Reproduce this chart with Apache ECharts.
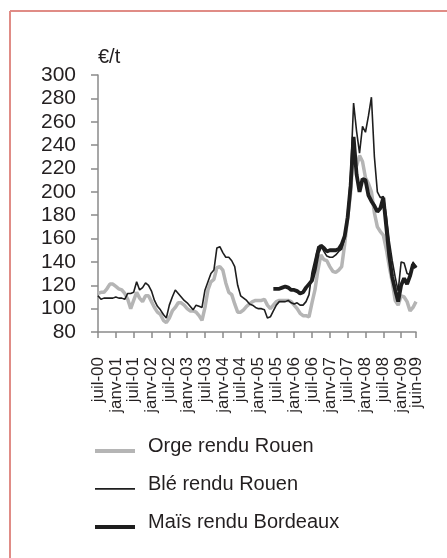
<!DOCTYPE html>
<html>
<head>
<meta charset="utf-8">
<script src="https://cdn.jsdelivr.net/npm/echarts@6/dist/echarts.min.js"></script>
<style>
html,body{margin:0;padding:0;background:#fff;}
#chart{width:447px;height:558px;}
</style>
</head>
<body>
<div id="chart"></div>
<script>
// Month names (French) and years used to build monthly categories juil-00 .. juin-09
const monthNames = ['janv','févr','mars','avr','mai','juin','juil','août','sept','oct','nov','déc'];
const startYear = 2000, startMonth = 6, monthCount = 108;
const categories = [];
for (let k = 0; k < monthCount; k++) {
  const m = (startMonth + k) % 12;
  const y = startYear + Math.floor((startMonth + k) / 12);
  categories.push(monthNames[m] + '-' + String(y % 100).padStart(2, '0'));
}

const seriesNames = ['Orge rendu Rouen', 'Blé rendu Rouen', 'Maïs rendu Bordeaux'];

const orge = [
  113, 114, 114, 117, 121, 121, 119, 117, 116, 113, 108, 100,
  107, 114, 109, 106, 111, 111, 106, 101, 97, 95, 90, 88,
  92, 98, 101, 105, 105, 103, 100, 98, 98, 97, 94, 90,
  101, 116, 123, 125, 135, 136, 133, 122, 114, 112, 104, 97,
  97, 99, 102, 104, 106, 107, 107, 107, 108, 103, 100, 103,
  106, 107, 107, 107, 107, 106, 103, 100, 96, 94, 94, 93,
  105, 116, 133, 146, 142, 141, 136, 132, 131, 133, 136, 155,
  178, 199, 238, 222, 231, 226, 212, 207, 200, 182, 170, 166,
  163, 151, 136, 123, 107, 103, 111, 110, 106, 98, 101, 106
];

const ble = [
  111, 108, 109, 109, 109, 109, 110, 109, 109, 108, 113, 113,
  114, 123, 116, 118, 122, 120, 115, 107, 102, 99, 95, 92,
  103, 110, 116, 113, 110, 107, 105, 102, 99, 103, 102, 101,
  116, 123, 130, 133, 152, 153, 148, 144, 144, 141, 136, 120,
  111, 109, 107, 104, 103, 101, 100, 100, 99, 92, 93, 98,
  103, 106, 106, 106, 107, 105, 104, 105, 103, 103, 106, 112,
  131, 142, 153, 154, 149, 145, 144, 144, 146, 149, 151, 160,
  178, 215, 276, 252, 233, 256, 251, 265, 281, 230, 200, 195,
  196, 180, 158, 141, 127, 115, 140, 139, 130, 129, 140, 135
];

const mais = [
  null, null, null, null, null, null, null, null, null, null, null, null,
  null, null, null, null, null, null, null, null, null, null, null, null,
  null, null, null, null, null, null, null, null, null, null, null, null,
  null, null, null, null, null, null, null, null, null, null, null, null,
  null, null, null, null, null, null, null, null, null, null, null, 117,
  117, 117, 118, 119, 118, 116, 116, 115, 113, 114, 118, 121,
  124, 134, 148, 154, 152, 149, 150, 150, 150, 151, 155, 162,
  178, 205, 247, 215, 200, 211, 210, 197, 192, 188, 183, 186,
  195, 170, 145, 127, 116, 106, 120, 126, 121, 128, 138, 135
];

const yMin = 80, yMax = 300, yStep = 20;

function isSixMonth(index) { return index % 6 === 0; }
function isLast(index) { return index === monthCount - 1; }
function isMarked(index) { return isSixMonth(index) || isLast(index); }

const chart = echarts.init(document.getElementById('chart'), null, {renderer: 'canvas'});
const textColor = '#231f20';
const axisColor = '#8a8a8a';
const fontFamily = '"Liberation Sans", Arial, Helvetica, sans-serif';

const thickIcon = 'path://M0,0 M0,13 L40,13 L40,17 L0,17 Z M40,20';
const thinIcon = 'path://M0,0 M0,14 L40,14 L40,15.8 L0,15.8 Z M40,20';

const xLabelStyle = {
  rotate: 90,
  hideOverlap: false,
  margin: 25,
  fontSize: 17,
  lineHeight: 12,
  color: textColor,
  fontFamily: fontFamily
};

chart.setOption({
  backgroundColor: '#ffffff',
  animation: false,
  textStyle: {fontFamily: fontFamily},
  grid: {left: 98, right: 31, top: 75, bottom: 226, containLabel: false},
  graphic: [
    {type: 'line', shape: {x1: 10, y1: 11, x2: 10, y2: 558}, style: {stroke: '#e08c86', lineWidth: 2}},
    {type: 'line', shape: {x1: 10, y1: 11, x2: 447, y2: 11}, style: {stroke: '#e08c86', lineWidth: 2}}
  ],
  legend: {
    orient: 'vertical',
    left: 95,
    top: 434,
    padding: 0,
    itemWidth: 40,
    itemHeight: 20,
    itemGap: 14,
    data: [
      {name: seriesNames[0], icon: thickIcon},
      {name: seriesNames[1], icon: thinIcon},
      {name: seriesNames[2], icon: thickIcon}
    ],
    textStyle: {fontSize: 20, color: textColor, fontFamily: fontFamily, lineHeight: 24, padding: [0, 0, 0, 8]},
    selectedMode: false
  },
  xAxis: [
    {
      type: 'category',
      position: 'bottom',
      data: categories,
      boundaryGap: false,
      axisLine: {lineStyle: {color: axisColor, width: 1.5}},
      axisTick: {show: true, length: 6, interval: isMarked, lineStyle: {color: axisColor, width: 1.5}},
      axisLabel: Object.assign({interval: isSixMonth, showMinLabel: true, showMaxLabel: true}, xLabelStyle),
      splitLine: {show: false}
    },
    {
      type: 'category',
      position: 'bottom',
      data: categories,
      boundaryGap: false,
      axisLine: {show: false},
      axisTick: {show: false},
      axisLabel: Object.assign({interval: isLast, showMinLabel: false, showMaxLabel: true}, xLabelStyle),
      splitLine: {show: false}
    }
  ],
  yAxis: {
    type: 'value',
    min: yMin,
    max: yMax,
    interval: yStep,
    name: '€/t',
    nameLocation: 'end',
    nameGap: 8,
    nameTextStyle: {fontSize: 20, color: textColor, align: 'left', fontFamily: fontFamily},
    axisLine: {show: true, lineStyle: {color: axisColor, width: 1.5}},
    axisTick: {show: true, length: 7, lineStyle: {color: axisColor, width: 1.5}},
    axisLabel: {fontSize: 21, color: textColor, margin: 22, fontFamily: fontFamily},
    splitLine: {show: false}
  },
  series: [
    {name: seriesNames[0], type: 'line', xAxisIndex: 0, data: orge, symbol: 'none', lineStyle: {color: '#b5b5b5', width: 3.5}, itemStyle: {color: '#b5b5b5'}},
    {name: seriesNames[1], type: 'line', xAxisIndex: 0, data: ble, symbol: 'none', lineStyle: {color: '#1e1e1e', width: 1.6}, itemStyle: {color: '#1e1e1e'}},
    {name: seriesNames[2], type: 'line', xAxisIndex: 0, data: mais, symbol: 'none', lineStyle: {color: '#1e1e1e', width: 3.8}, itemStyle: {color: '#1e1e1e'}}
  ]
});
</script>
</body>
</html>
